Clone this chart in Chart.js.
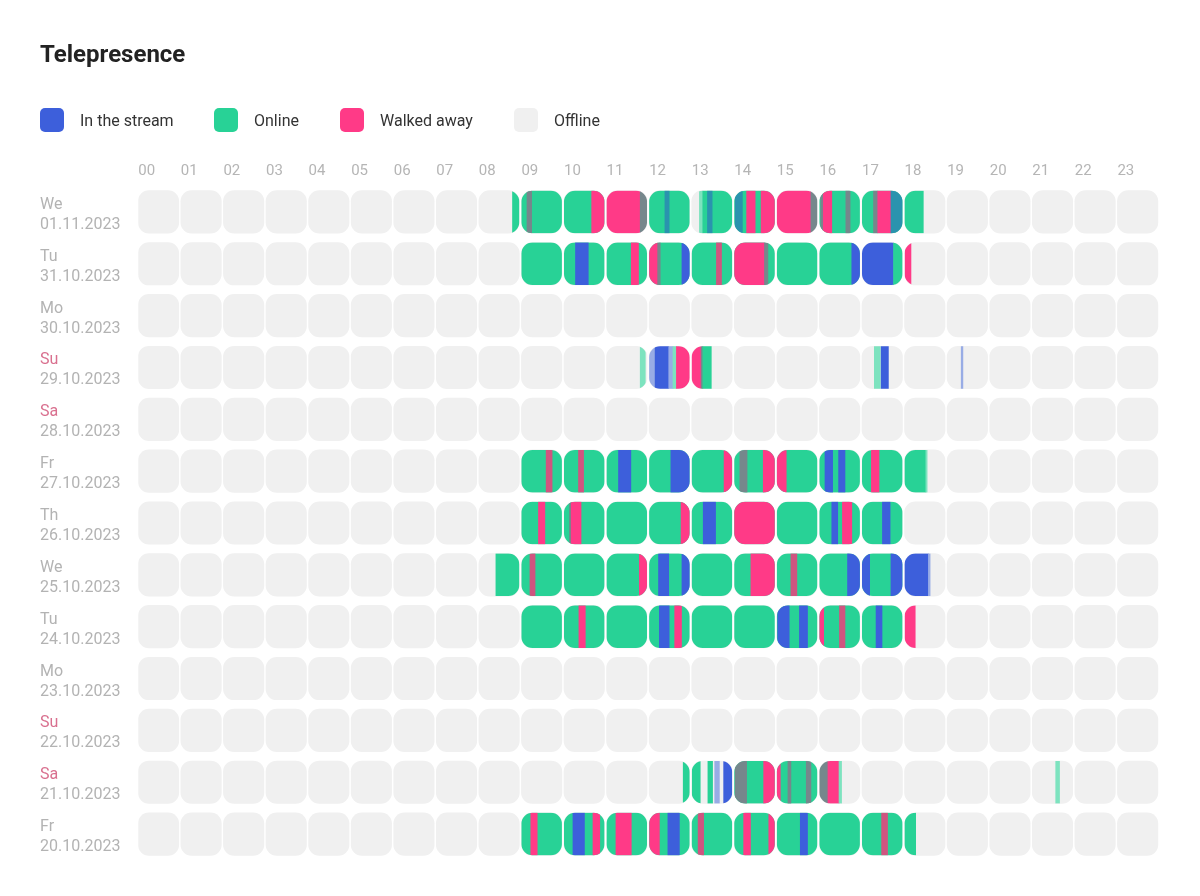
<!DOCTYPE html>
<html>
<head>
<meta charset="utf-8">
<title>Telepresence</title>
<script src="https://cdn.jsdelivr.net/npm/chart.js@4"></script>
<style>
  html,body{margin:0;padding:0;background:#fff;width:1200px;height:896px;overflow:hidden;font-family:Roboto,sans-serif}
  #stage{position:absolute;left:0;top:0}
  h1{position:absolute;left:40px;top:39px;margin:0;font-size:24px;line-height:30px;font-weight:700;color:#222}
  .key{position:absolute;top:108px;height:24px;line-height:25px;font-size:16px;color:#333;padding-left:40px}
  .key i{position:absolute;left:0;top:0;width:24px;height:24px;border-radius:5px}
</style>
</head>
<body>
<canvas id="stage" width="1200" height="896"></canvas>
<h1>Telepresence</h1>
<div class="key" style="left:40px"><i style="background:#3d5fdb"></i>In the stream</div>
<div class="key" style="left:214px"><i style="background:#28d296"></i>Online</div>
<div class="key" style="left:340px"><i style="background:#ff3a87"></i>Walked away</div>
<div class="key" style="left:514px"><i style="background:#f0f0f0"></i>Offline</div>
<script>
const C = { offline:"#f0f0f0", O:"#28d296", S:"#3d5fdb", A:"#ff3a87", g:"#76878c", t:"#2a93ae", p:"#cf5580", l:"#7de3bf", b:"#98ace5" };
const hours = ["00","01","02","03","04","05","06","07","08","09","10","11","12","13","14","15","16","17","18","19","20","21","22","23"];
const dayNames = ["We","Tu","Mo","Su","Sa","Fr","Th","We","Tu","Mo","Su","Sa","Fr"];
const dates = ["01.11.2023","31.10.2023","30.10.2023","29.10.2023","28.10.2023","27.10.2023","26.10.2023","25.10.2023","24.10.2023","23.10.2023","22.10.2023","21.10.2023","20.10.2023"];

// spans per day: [from hour, to hour, state], later ones paint over earlier ones
// O online, S stream, A away; g, t, p, l, b are the blurred in-between stripes
const nov01 = [[8.79,8.95,"O"],[9,11,"O"],[9.13,9.24,"g"],[10.65,10.95,"A"],[11,11.79,"A"],[11.79,11.95,"g"],[12,13,"O"],[12.37,12.47,"t"],[13.18,13.26,"l"],[13.26,14,"O"],[13.37,13.48,"t"],[14,15,"O"],[14.02,14.19,"t"],[14.29,14.49,"A"],[14.63,14.95,"A"],[15,15.80,"A"],[15.80,15.95,"g"],[16,18.44,"O"],[16.03,16.09,"g"],[16.09,16.29,"A"],[16.62,16.72,"g"],[17.27,17.37,"g"],[17.37,17.68,"A"],[17.68,17.95,"t"]];
const oct31 = [[9,17,"O"],[10.27,10.57,"S"],[11.58,11.75,"A"],[12,12.20,"A"],[12.20,12.26,"g"],[12.77,12.95,"S"],[13.58,13.70,"p"],[14,14.71,"A"],[14.71,14.79,"g"],[16.76,16.95,"S"],[17,17.74,"S"],[17.74,17.95,"O"],[18.01,18.15,"A"]];
const oct30 = [];
const oct29 = [[11.79,11.91,"l"],[12,12.14,"b"],[12.14,12.46,"S"],[12.46,12.56,"b"],[12.56,12.64,"l"],[12.64,12.95,"A"],[13,13.22,"A"],[13.22,13.26,"g"],[13.26,13.46,"O"],[17.29,17.43,"l"],[17.45,17.62,"S"],[19.33,19.37,"b"]];
const oct28 = [];
const oct27 = [[9,18.50,"O"],[18.50,18.53,"l"],[9.58,9.72,"p"],[10.34,10.46,"p"],[11.28,11.57,"S"],[12.51,12.95,"S"],[13.76,13.95,"A"],[14.13,14.30,"g"],[14.68,14.95,"A"],[15,15.22,"A"],[16.13,16.31,"S"],[16.45,16.60,"S"],[17.22,17.40,"A"]];
const oct26 = [[9,17.95,"O"],[9.40,9.55,"A"],[10.13,10.17,"g"],[10.17,10.40,"A"],[12.75,12.95,"A"],[13.27,13.56,"S"],[14,14.95,"A"],[16.29,16.43,"S"],[16.54,16.76,"A"],[17.48,17.66,"S"]];
const oct25 = [[8.40,18,"O"],[9.20,9.32,"p"],[11.77,11.95,"A"],[12.22,12.46,"S"],[12.77,12.95,"S"],[14.39,14.95,"A"],[15.33,15.47,"p"],[16.66,16.95,"S"],[17,17.18,"S"],[17.68,17.95,"S"],[18,18.56,"S"],[18.56,18.60,"b"]];
const oct24 = [[9,18,"O"],[10.35,10.50,"A"],[12.24,12.47,"S"],[12.60,12.76,"A"],[15.02,15.29,"S"],[15.53,15.72,"S"],[16,16.10,"A"],[16.47,16.60,"p"],[17.33,17.47,"S"],[18.01,18.25,"A"]];
const oct23 = [];
const oct22 = [];
const oct21 = [[12.80,12.95,"O"],[13.01,13.20,"O"],[13.38,13.49,"O"],[13.54,13.65,"b"],[13.75,13.95,"S"],[14,16,"O"],[14.02,14.29,"g"],[14.69,14.95,"A"],[15,15.08,"A"],[15.26,15.33,"g"],[15.69,15.80,"g"],[16,16.20,"g"],[16.20,16.46,"A"],[16.46,16.52,"l"],[21.55,21.64,"l"]];
const oct20 = [[9,18.26,"O"],[9.22,9.37,"A"],[10.21,10.48,"S"],[10.68,10.84,"A"],[11.22,11.58,"A"],[12.01,12.24,"A"],[12.44,12.71,"S"],[13.15,13.28,"p"],[14.22,14.38,"A"],[14.81,14.95,"A"],[15.55,15.72,"S"],[17.46,17.60,"p"]];
const days = [nov01,oct31,oct30,oct29,oct28,oct27,oct26,oct25,oct24,oct23,oct22,oct21,oct20];

const CELL = 0.95, ROW_H = 42.5;

// one floating bar per hour cell a span touches
function pieces(){
  const out = [];
  days.forEach((spans,row)=>spans.forEach(([a,b,s])=>{
    for(let h=Math.floor(a); h<b; h++){
      const from=Math.max(a,h), to=Math.min(b,h+CELL);
      if(to>from) out.push({x:[from,to],y:dates[row],color:C[s]});
    }
  }));
  return out;
}
const offlineCells = dates.flatMap(d=>hours.map((_,h)=>({x:[h,h+CELL],y:d})));

// soft edges everywhere; colored stripes (dataset 0, drawn last) get cut to the rounded cell outline
const softCells = {
  id:"softCells",
  beforeDatasetDraw(chart,args){
    const {x,y}=chart.scales, ctx=chart.ctx;
    ctx.save();
    if(args.index===0){
      ctx.beginPath();
      dates.forEach(d=>hours.forEach((_,h)=>{
        const l=x.getPixelForValue(h), r=x.getPixelForValue(h+CELL), m=y.getPixelForValue(d);
        ctx.roundRect(l,m-ROW_H/2,r-l,ROW_H,11);
      }));
      ctx.clip();
    }
    ctx.filter="blur(0.6px)";
  },
  afterDatasetDraw(chart){ chart.ctx.restore(); }
};

const tickFont = {family:"Roboto",size:16,lineHeight:"20px"};
new Chart(document.getElementById("stage"),{
  type:"bar",
  plugins:[softCells],
  data:{labels:dates,datasets:[
    {data:pieces(),backgroundColor:c=>c.raw.color,barThickness:ROW_H,grouped:false},
    {data:offlineCells,backgroundColor:C.offline,borderRadius:11,borderSkipped:false,barThickness:ROW_H,grouped:false}
  ]},
  options:{
    indexAxis:"y",responsive:false,animation:false,
    layout:{padding:{left:40,right:40,top:0,bottom:36}},
    plugins:{legend:{display:false},tooltip:{enabled:false}},
    scales:{
      x:{type:"linear",position:"top",min:0,max:24,
        grid:{display:false,drawTicks:false},border:{display:false},
        afterFit:s=>{s.height=186;},
        ticks:{stepSize:1,autoSkip:false,maxRotation:0,align:"start",padding:6,color:"#b5b5b5",font:{family:"Roboto",size:15},
          callback:v=>hours[v]||""}},
      y:{position:"left",weight:0,
        grid:{display:false,drawTicks:false},border:{display:false},
        afterFit:s=>{s.width=0;},
        ticks:{autoSkip:false,mirror:true,padding:-98.3,labelOffset:3,color:"#b3b3b3",font:tickFont,
          callback:function(v){return ["",this.getLabelForValue(v)];}}},
      yDay:{type:"category",labels:dayNames,position:"left",weight:1,offset:true,
        grid:{display:false,drawTicks:false},border:{display:false},
        afterFit:s=>{s.width=98.3;},
        ticks:{autoSkip:false,crossAlign:"far",padding:0,labelOffset:3,font:tickFont,
          color:c=>/S[ua]/.test(dayNames[c.index])?"#d9708f":"#b3b3b3",
          callback:function(v){return [this.getLabelForValue(v),""];}}}
    }
  }
});
</script>
</body>
</html>
